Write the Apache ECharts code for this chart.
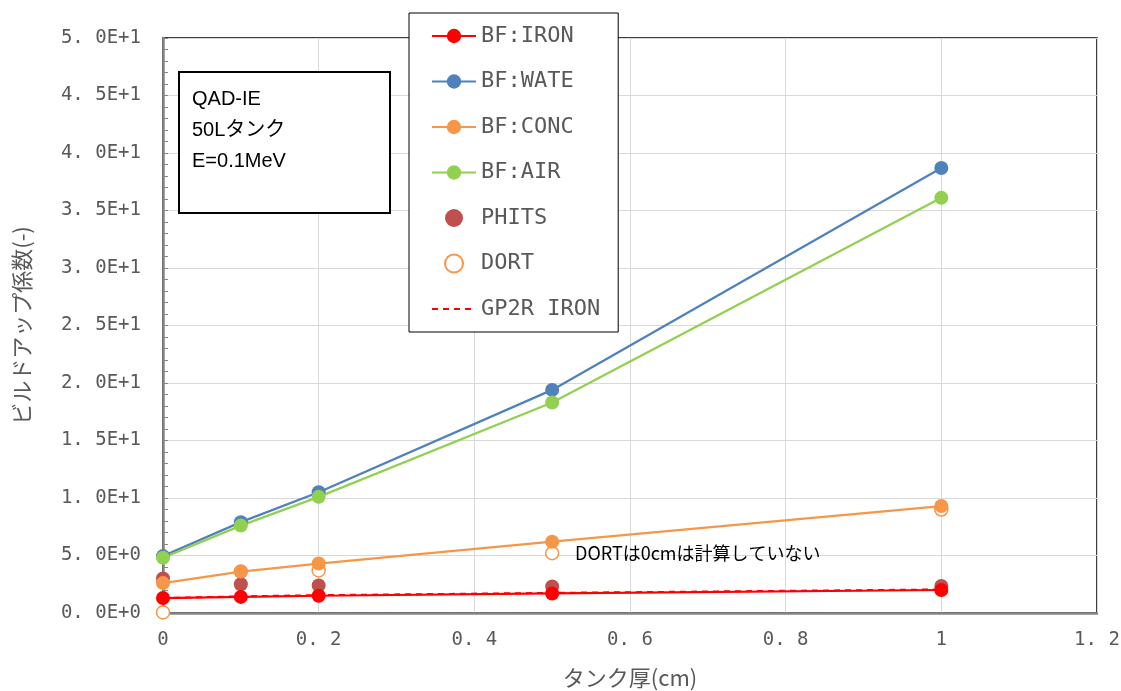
<!DOCTYPE html>
<html><head><meta charset="utf-8">
<script src="https://cdn.jsdelivr.net/npm/echarts@6/dist/echarts.min.js"></script>
<style>html,body{margin:0;padding:0;background:#fff}#c{width:1121px;height:691px}</style>
</head><body><div id="c"></div>
<script>
const thickness = [0, 0.1, 0.2, 0.5, 1.0];
const bfIron = [1.3, 1.4, 1.5, 1.7, 2.0];
const bfWate = [4.95, 7.9, 10.5, 19.4, 38.7];
const bfConc = [2.6, 3.6, 4.3, 6.2, 9.3];
const bfAir = [4.8, 7.6, 10.1, 18.3, 36.1];
const phits = [3.0, 2.5, 2.4, 2.3, 2.35];
const dort = [0.05, 3.6, 3.7, 5.2, 9.0];
const gp2rIron = [1.3, 1.45, 1.55, 1.75, 2.05];
const yTickLabels = {0:'0. 0E+0',5:'5. 0E+0',10:'1. 0E+1',15:'1. 5E+1',20:'2. 0E+1',25:'2. 5E+1',30:'3. 0E+1',35:'3. 5E+1',40:'4. 0E+1',45:'4. 5E+1',50:'5. 0E+1'};
const xTickLabels = {'0':'0','0.2':'0. 2','0.4':'0. 4','0.6':'0. 6','0.8':'0. 8','1':'1','1.2':'1. 2'};
const legendOrder = ['BF:IRON','BF:WATE','BF:CONC','BF:AIR','PHITS','DORT','GP2R IRON'];
const infoLines = ['QAD-IE','50Lタンク','E=0.1MeV'];
const note = 'DORTは0cmは計算していない';

const pairs = arr => thickness.map((x,i)=>[x,arr[i]]);
const mono = '"DejaVu Sans Mono","Liberation Mono",monospace';
const gray = '#595959';
function lineSeries(name, data, color){
  return {name, type:'line', data:pairs(data), symbol:'circle', symbolSize:14,
    lineStyle:{color, width:2.25}, itemStyle:{color, opacity:1}, showSymbol:true};
}
const chart = echarts.init(document.getElementById('c'));
chart.setOption({
  animation:false,
  backgroundColor:'#fff',
  grid:{left:163, right:24, top:38, bottom:78, outerBoundsMode:'none', containLabel:false,
    show:true, borderColor:'#000', borderWidth:1.5, backgroundColor:'transparent'},
  xAxis:{type:'value', min:0, max:1.2, interval:0.2,
    name:'タンク厚(cm)', nameLocation:'middle', nameGap:54,
    nameTextStyle:{color:gray, fontSize:22, fontFamily:'"Noto Sans CJK JP"'},
    axisLine:{show:true, onZero:false, lineStyle:{color:'#868686', width:2.5}},
    axisTick:{show:false},
    axisLabel:{color:gray, fontSize:19, fontFamily:mono, margin:18,
      formatter:v=>xTickLabels[String(Math.round(v*10)/10)] ?? ''},
    splitLine:{show:true, lineStyle:{color:'#d9d9d9', width:1}}},
  yAxis:{type:'value', min:0, max:50, interval:5,
    name:'ビルドアップ係数(-)', nameLocation:'middle', nameGap:130,
    nameTextStyle:{color:gray, fontSize:22, fontFamily:'"Noto Sans CJK JP"'},
    axisLine:{show:true, lineStyle:{color:'#868686', width:2.5}},
    axisTick:{show:true, inside:true, length:5, lineStyle:{color:'#868686', width:1}},
    minorTick:{show:true, splitNumber:5, length:5, lineStyle:{color:'#868686', width:1}},
    axisLabel:{color:gray, fontSize:19, fontFamily:mono, margin:22,
      formatter:v=>yTickLabels[Math.round(v)] ?? ''},
    splitLine:{show:true, lineStyle:{color:'#d9d9d9', width:1}}},
  legend:{data:legendOrder.map(n => n === 'GP2R IRON' ? {name:n, itemStyle:{opacity:0}} : n),
    orient:'vertical', left:409, top:13,
    padding:[12,18,12,22], itemGap:23.5, itemWidth:44, itemHeight:18,
    backgroundColor:'#fff', borderColor:'#000', borderWidth:1,
    textStyle:{color:gray, fontSize:22, fontFamily:mono}},
  series:[
    {name:'DORT', type:'scatter', data:pairs(dort), symbol:'circle', symbolSize:13,
      itemStyle:{color:'#fff', borderColor:'#f79646', borderWidth:1.5, opacity:1}},
    {name:'GP2R IRON', type:'line', data:pairs(gp2rIron), symbol:'none', showSymbol:false,
      lineStyle:{color:'#ff0000', width:2, type:[6,5]}, itemStyle:{color:'#ff0000'}},
    lineSeries('BF:IRON', bfIron, '#ff0000'),
    lineSeries('BF:WATE', bfWate, '#4f81bd'),
    lineSeries('BF:CONC', bfConc, '#f79646'),
    lineSeries('BF:AIR', bfAir, '#92d050'),
    {name:'PHITS', type:'scatter', data:pairs(phits), symbol:'circle', symbolSize:14,
      itemStyle:{color:'#c0504d', opacity:1}}
  ],
  graphic:[
    {type:'rect', left:178, top:71, shape:{width:211, height:141},
      style:{fill:'#fff', stroke:'#000', lineWidth:2}, z:10},
    ...infoLines.map((t,i)=>({type:'text', left:192, top:89+i*31,
      style:{text:t, fill:'#000', font:'20px "Liberation Sans","Noto Sans CJK JP",sans-serif'}, z:11})),
    {type:'text', left:575, top:544,
      style:{text:note, fill:'#000', font:'18px "Noto Sans CJK JP",sans-serif'}, z:11}
  ]
});
</script></body></html>
